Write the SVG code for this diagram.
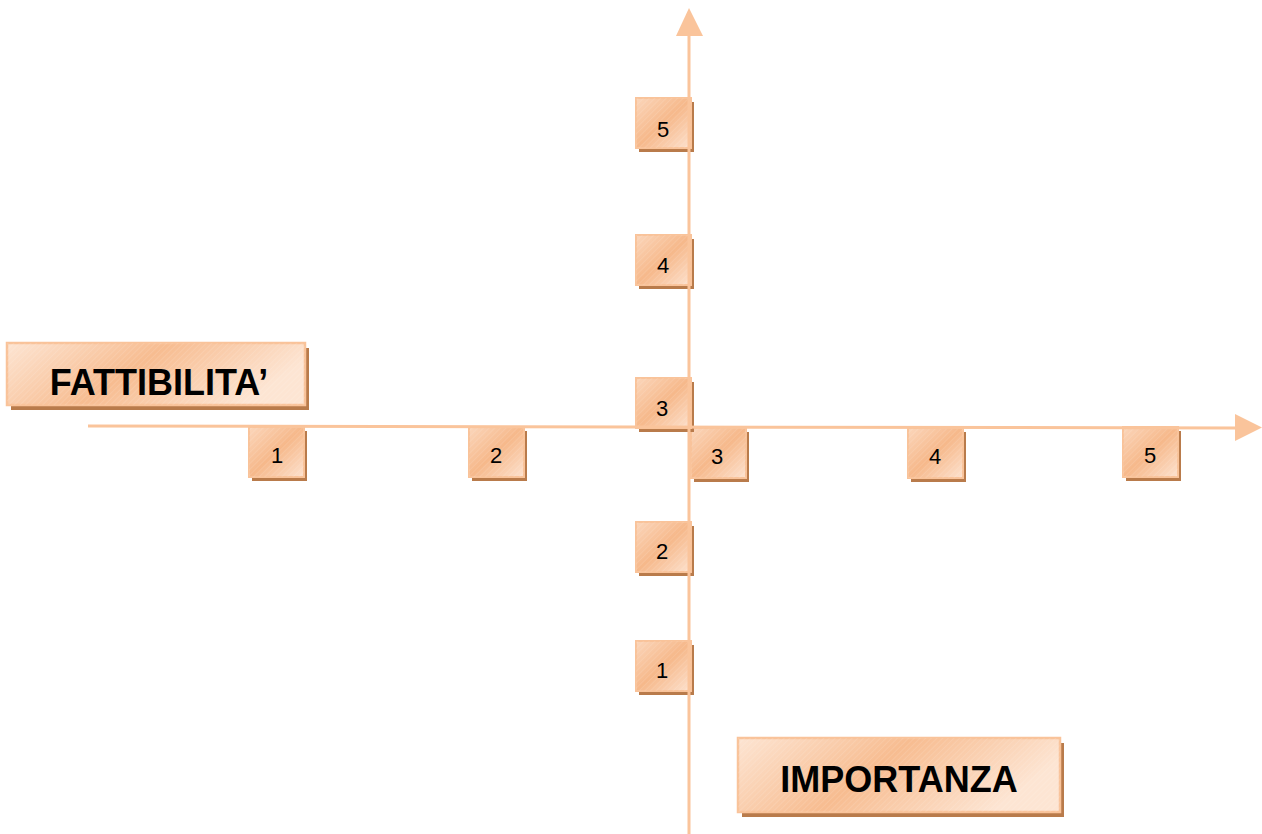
<svg xmlns="http://www.w3.org/2000/svg" width="1262" height="834" viewBox="0 0 1262 834">
<defs>
<linearGradient id="g" x1="0" y1="0" x2="1" y2="1">
<stop offset="0" stop-color="#fbd6bb"/>
<stop offset="0.5" stop-color="#f6b88a"/>
<stop offset="1" stop-color="#fde2cf"/>
</linearGradient>
<linearGradient id="gw" x1="0" y1="0" x2="1" y2="0.3">
<stop offset="0" stop-color="#fde5d3"/>
<stop offset="0.5" stop-color="#f7bc90"/>
<stop offset="1" stop-color="#fde5d3"/>
</linearGradient>
<pattern id="hatch" width="4" height="4" patternUnits="userSpaceOnUse" patternTransform="rotate(45)">
<line x1="0" y1="0" x2="0" y2="4" stroke="#ffffff" stroke-opacity="0.22" stroke-width="1"/>
</pattern>
</defs>
<style>
.sh{fill:#b97b4b}
.bx{fill:url(#g);stroke:#f9c39a;stroke-width:2}
.wb{fill:url(#gw);stroke:#f9c39a;stroke-width:2.5}
.ht{fill:url(#hatch);stroke:none}
.num{font-family:"Liberation Sans",Arial,sans-serif;font-size:22px;fill:#000;text-anchor:middle}
.lbl{font-family:"Liberation Sans",Arial,sans-serif;font-size:36px;font-weight:bold;fill:#000;text-anchor:middle}
.ax{stroke:#fac49b;stroke-width:3;fill:none}
.ah{fill:#fac49b}
</style>

<g id="label-fattibilita">
<rect class="sh" x="11" y="348" width="298" height="62"/>
<rect class="wb" x="7" y="343" width="298" height="62"/>
<rect class="ht" x="7" y="343" width="298" height="62"/>
<text class="lbl" x="159" y="395">FATTIBILITA’</text>
</g>

<g id="label-importanza">
<rect class="sh" x="742" y="743" width="322" height="74"/>
<rect class="wb" x="738" y="738" width="322" height="74"/>
<rect class="ht" x="738" y="738" width="322" height="74"/>
<text class="lbl" x="899" y="792">IMPORTANZA</text>
</g>

<g id="h1"><rect class="sh" x="252" y="431" width="55" height="50"/><rect class="bx" x="249" y="427" width="55" height="50"/><rect class="ht" x="249" y="427" width="55" height="50"/><text class="num" x="277" y="463">1</text></g>
<g id="h2"><rect class="sh" x="472" y="431" width="55" height="50"/><rect class="bx" x="469" y="427" width="55" height="50"/><rect class="ht" x="469" y="427" width="55" height="50"/><text class="num" x="496" y="463">2</text></g>
<g id="h3"><rect class="sh" x="694" y="432" width="55" height="50"/><rect class="bx" x="691" y="428" width="55" height="50"/><rect class="ht" x="691" y="428" width="55" height="50"/><text class="num" x="717" y="464">3</text></g>
<g id="h4"><rect class="sh" x="911" y="432" width="55" height="50"/><rect class="bx" x="908" y="428" width="55" height="50"/><rect class="ht" x="908" y="428" width="55" height="50"/><text class="num" x="935" y="464">4</text></g>
<g id="h5"><rect class="sh" x="1126" y="431" width="55" height="50"/><rect class="bx" x="1123" y="427" width="55" height="50"/><rect class="ht" x="1123" y="427" width="55" height="50"/><text class="num" x="1150" y="463">5</text></g>

<g id="v5"><rect class="sh" x="639" y="102" width="55" height="50"/><rect class="bx" x="636" y="98" width="55" height="50"/><rect class="ht" x="636" y="98" width="55" height="50"/><text class="num" x="663" y="137">5</text></g>
<g id="v4"><rect class="sh" x="639" y="239" width="55" height="50"/><rect class="bx" x="636" y="235" width="55" height="50"/><rect class="ht" x="636" y="235" width="55" height="50"/><text class="num" x="663" y="273">4</text></g>
<g id="v3"><rect class="sh" x="639" y="382" width="55" height="50"/><rect class="bx" x="636" y="378" width="55" height="50"/><rect class="ht" x="636" y="378" width="55" height="50"/><text class="num" x="662" y="416">3</text></g>
<g id="v2"><rect class="sh" x="639" y="526" width="55" height="50"/><rect class="bx" x="636" y="522" width="55" height="50"/><rect class="ht" x="636" y="522" width="55" height="50"/><text class="num" x="662" y="559">2</text></g>
<g id="v1"><rect class="sh" x="639" y="645" width="55" height="50"/><rect class="bx" x="636" y="641" width="55" height="50"/><rect class="ht" x="636" y="641" width="55" height="50"/><text class="num" x="662" y="678">1</text></g>

<g id="connectors">
<line class="ax" x1="689" y1="834" x2="689" y2="36"/>
<path class="ah" d="M676,36 L703,36 L689,8 Z"/>
<line class="ax" x1="88" y1="426" x2="1236" y2="428"/>
<path class="ah" d="M1235,414 L1235,441 L1262,427.5 Z"/>
</g>
</svg>
